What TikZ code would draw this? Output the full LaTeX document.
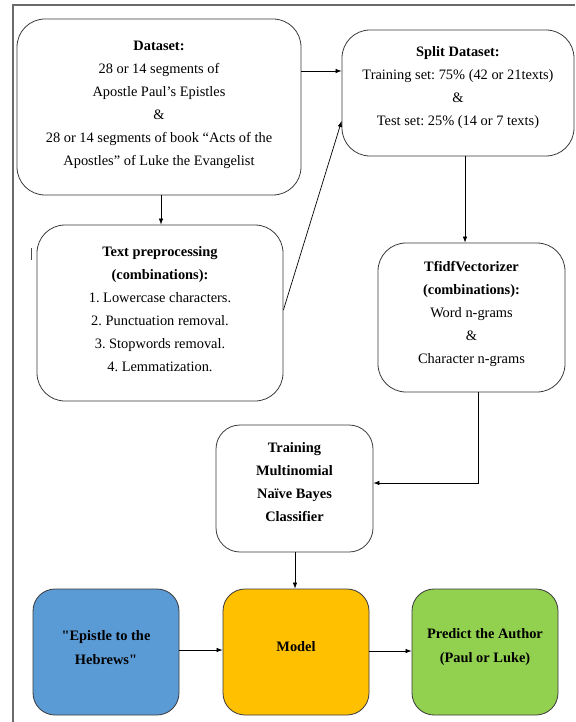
\documentclass[tikz,border=0pt]{standalone}
\usepackage{fontspec}
\setmainfont{Liberation Serif}[Ligatures=TeXOff]
\frenchspacing
\usetikzlibrary{arrows.meta}
\definecolor{boxline}{HTML}{3A3A3A}
\definecolor{frameline}{HTML}{6A6A6A}
\definecolor{cblue}{HTML}{5B9BD5}
\definecolor{corange}{HTML}{FFC000}
\definecolor{cgreen}{HTML}{92D050}
\tikzset{
  flowbox/.style={draw=boxline, line width=0.8pt, rounded corners=28pt, inner sep=0pt},
  colbox/.style={flowbox, rounded corners=22pt},
  txt/.style={align=center, inner sep=0pt, font=\fontsize{14.4}{23}\selectfont\frenchspacing},
  btxt/.style={align=center, inner sep=0pt, font=\fontsize{14.4}{24}\selectfont\bfseries\frenchspacing},
  conn/.style={draw=black, line width=0.7pt, -{Latex[length=6pt,width=4.5pt]}},
}
\begin{document}
\begin{tikzpicture}[x=1pt,y=-1pt]
\useasboundingbox (0,0) rectangle (575,722);
% outer frame (cropped)
\draw[frameline, line width=1.2pt] (13,722) -- (13,5) -- (575,5);
% stray cursor mark
\draw[black!70, line width=0.8pt] (31,248) -- (31,260);

\node[flowbox, minimum width=284pt, minimum height=176pt,
  label={[txt, yshift=2.5pt]center:{\textbf{Dataset:}\\28 or 14 segments of\\Apostle Paul’s Epistles\\\&\\28 or 14 segments of book “Acts of the\\Apostles” of Luke the Evangelist}}] (data) at (159,107) {};
\node[flowbox, minimum width=232pt, minimum height=126pt,
  label={[txt, yshift=5pt]center:{\textbf{Split Dataset:}\\Training set: 75\% (42 or 21texts)\\\&\\Test set: 25\% (14 or 7 texts)}}] (split) at (458,93) {};
\node[flowbox, minimum width=246pt, minimum height=176pt,
  label={[txt, yshift=3.5pt]center:{\textbf{Text preprocessing}\\\textbf{(combinations):}\\1. Lowercase characters.\\2. Punctuation removal.\\3. Stopwords removal.\\4. Lemmatization.}}] (prep) at (160,313) {};
\node[flowbox, minimum width=187pt, minimum height=149pt,
  label={[txt, yshift=3.5pt]center:{\textbf{TfidfVectorizer}\\\textbf{(combinations):}\\Word n-grams\\\&\\Character n-grams}}] (tfidf) at (471.5,317.5) {};
\node[flowbox, rounded corners=24pt, minimum width=157pt, minimum height=127pt,
  label={[txt, font=\fontsize{14.4}{23}\selectfont\bfseries, yshift=6pt]center:{Training\\Multinomial\\Naïve Bayes\\Classifier}}] (train) at (294.5,488.5) {};
\node[colbox, fill=cblue, minimum width=146pt, minimum height=126pt,
  label={[btxt, yshift=4.5pt]center:{"Epistle to the\\Hebrews"}}] (heb) at (106,652) {};
\node[colbox, fill=corange, minimum width=146pt, minimum height=126pt,
  label={[btxt, yshift=5pt]center:{Model}}] (model) at (296,652) {};
\node[colbox, fill=cgreen, minimum width=146pt, minimum height=126pt,
  label={[btxt, yshift=4.5pt]center:{Predict the Author\\(Paul or Luke)}}] (pred) at (485,652) {};

% connectors
\draw[conn] (data.east |- 0,71) -- (split.west |- 0,71);
\draw[conn] (data.south -| 161,0) -- (prep.north -| 161,0);
\draw[conn] (prep.east |- 0,310) -- (split.west |- 0,121);
\draw[conn] (split.south -| 465,0) -- (tfidf.north -| 465,0);
\coordinate (bend) at (478,483);
\draw[conn] (tfidf.south -| bend) -- (bend) -- (train.east |- bend);
\draw[conn] (train.south -| 295,0) -- (model.north -| 295,0);
\draw[conn] (heb.east |- 0,650) -- (model.west |- 0,650);
\draw[conn] (model.east |- 0,651) -- (pred.west |- 0,651);
\end{tikzpicture}
\end{document}
